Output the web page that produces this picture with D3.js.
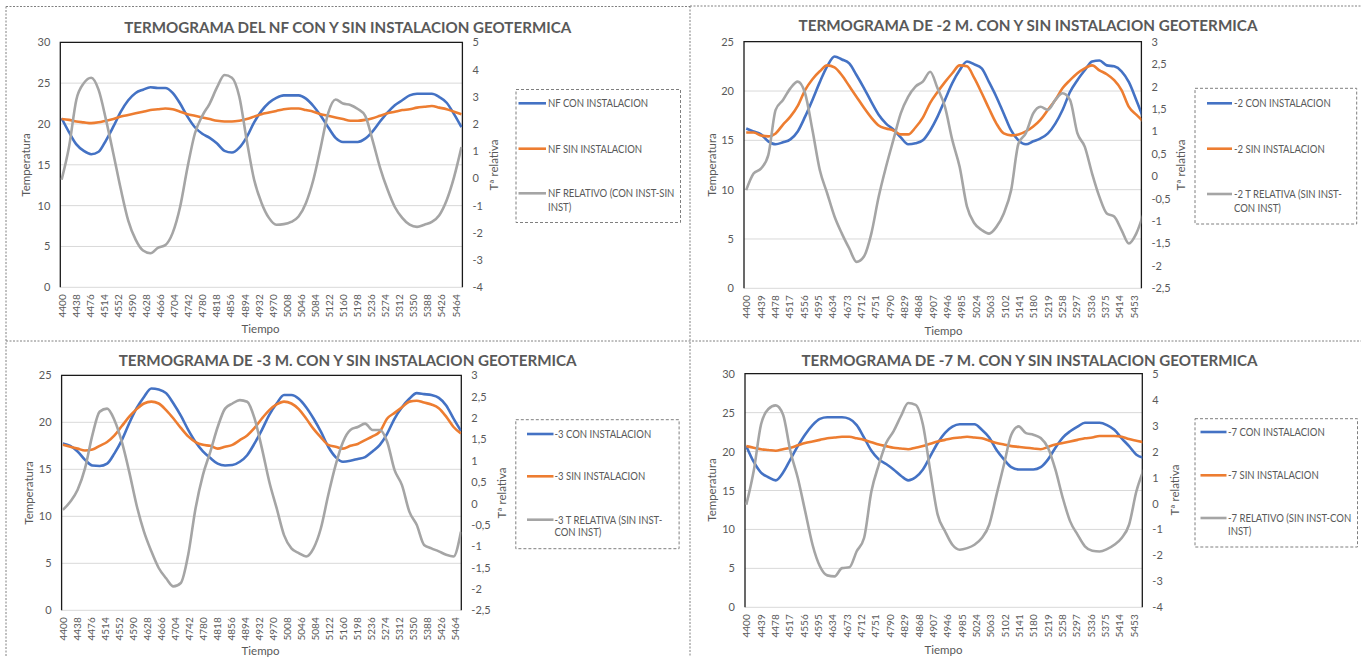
<!DOCTYPE html>
<html lang="es">
<head>
<meta charset="UTF-8">
<title>Termogramas con y sin instalacion geotermica</title>
<script src="https://d3js.org/d3.v7.min.js"></script>
<style>
  body { margin: 0; background: #fff; }
  text { font-family: Lato, "Liberation Sans", sans-serif; fill: #595959; }
</style>
</head>
<body>
<script>
    // tiempo (muestras leidas cada 20 unidades)
    const tiempo = [4400, 4420, 4440, 4460, 4480, 4500, 4520, 4540, 4560, 4580, 4600, 4620, 4640, 4660, 4680, 4700,
        4720, 4740, 4760, 4780, 4800, 4820, 4840, 4860, 4880, 4900, 4920, 4940, 4960, 4980, 5000, 5020, 5040, 5060,
        5080, 5100, 5120, 5140, 5160, 5180, 5200, 5220, 5240, 5260, 5280, 5300, 5320, 5340, 5360, 5380, 5400, 5420,
        5440, 5460, 5480];

    // etiquetas del eje x
    const ticks38 = [4400, 4438, 4476, 4514, 4552, 4590, 4628, 4666, 4704, 4742, 4780, 4818, 4856, 4894, 4932, 4970,
        5008, 5046, 5084, 5122, 5160, 5198, 5236, 5274, 5312, 5350, 5388, 5426, 5464];
    const ticks39 = [4400, 4439, 4478, 4517, 4556, 4595, 4634, 4673, 4712, 4751, 4790, 4829, 4868, 4907, 4946, 4985,
        5024, 5063, 5102, 5141, 5180, 5219, 5258, 5297, 5336, 5375, 5414, 5453];
    const temp30 = [0, 5, 10, 15, 20, 25, 30];
    const temp25 = [0, 5, 10, 15, 20, 25];
    const rel5 = [-4, -3, -2, -1, 0, 1, 2, 3, 4, 5];
    const rel3 = [-2.5, -2, -1.5, -1, -0.5, 0, 0.5, 1, 1.5, 2, 2.5, 3];

    // NF
    const nfCon = [20.7, 19.0, 17.5, 16.7, 16.3, 16.6, 18.0, 19.7, 21.5, 22.9, 23.8, 24.2, 24.5, 24.4, 24.4, 23.8,
        22.5, 20.9, 19.6, 18.8, 18.3, 17.6, 16.7, 16.5, 17.1, 18.4, 20.2, 21.6, 22.6, 23.2, 23.5, 23.5, 23.5, 23.1,
        22.2, 21.0, 19.6, 18.3, 17.8, 17.8, 17.8, 18.2, 19.1, 20.3, 21.4, 22.3, 22.9, 23.5, 23.7, 23.7, 23.7, 23.3,
        22.6, 21.2, 19.6];
    const nfSin = [20.6, 20.5, 20.3, 20.2, 20.1, 20.2, 20.4, 20.6, 20.9, 21.1, 21.3, 21.5, 21.7, 21.8, 21.9, 21.8,
        21.5, 21.2, 21.0, 20.8, 20.6, 20.4, 20.3, 20.3, 20.4, 20.6, 20.9, 21.2, 21.4, 21.6, 21.8, 21.9, 21.9, 21.7,
        21.5, 21.2, 21.0, 20.8, 20.6, 20.4, 20.4, 20.5, 20.7, 21.0, 21.3, 21.5, 21.7, 21.8, 22.0, 22.1, 22.2, 22.0,
        21.8, 21.5, 21.2];
    const nfRel = [-0.05, 1.15, 2.9, 3.5, 3.7, 3.25, 2.15, 0.9, -0.4, -1.55, -2.25, -2.65, -2.75, -2.55, -2.45, -2.0,
        -1.05, 0.4, 1.65, 2.3, 2.75, 3.35, 3.8, 3.7, 3.0, 1.4, -0.05, -0.9, -1.45, -1.7, -1.68, -1.6, -1.4, -0.9,
        -0.05, 1.15, 2.4, 2.9, 2.75, 2.7, 2.55, 2.3, 1.4, 0.4, -0.4, -1.05, -1.45, -1.7, -1.78, -1.7, -1.6, -1.35,
        -0.8, 0.05, 1.15];

    // -2 m
    const m2Con = [16.2, 15.9, 15.6, 14.9, 14.6, 14.8, 15.1, 15.9, 17.4, 19.1, 20.9, 22.5, 23.5, 23.2, 22.8, 21.6,
        20.3, 18.9, 17.6, 16.7, 16.1, 15.3, 14.6, 14.7, 15.0, 16.0, 17.4, 19.1, 20.8, 22.1, 23.0, 22.7, 22.3, 20.9,
        19.4, 17.7, 16.0, 15.0, 14.6, 14.9, 15.2, 15.7, 16.7, 18.1, 19.9, 21.1, 22.1, 23.0, 23.1, 22.6, 22.5, 22.0,
        20.9, 19.1, 17.2];
    const m2Sin = [15.8, 15.8, 15.5, 15.4, 15.7, 16.6, 17.4, 18.5, 20.1, 21.2, 22.0, 22.6, 22.4, 21.6, 20.5, 19.4,
        18.3, 17.3, 16.5, 16.2, 16.0, 15.6, 15.6, 16.3, 17.3, 18.8, 19.9, 20.9, 21.8, 22.6, 22.5, 21.3, 19.8, 18.2,
        16.7, 15.7, 15.5, 15.6, 15.9, 16.4, 17.1, 18.1, 19.1, 20.3, 21.1, 21.8, 22.3, 22.6, 22.1, 21.7, 21.1, 20.1,
        18.4, 17.6, 16.9];
    const m2Rel = [-0.31, 0.06, 0.17, 0.47, 1.48, 1.7, 1.96, 2.11, 1.85, 1.03, 0.14, -0.38, -0.9, -1.28, -1.61, -1.91,
        -1.79, -1.28, -0.46, 0.21, 0.81, 1.4, 1.77, 2.0, 2.11, 2.33, 1.96, 1.55, 0.81, 0.21, -0.68, -1.05, -1.2, -1.28,
        -1.13, -0.83, -0.31, 0.73, 0.96, 1.4, 1.55, 1.48, 1.7, 1.85, 1.7, 0.96, 0.66, 0.06, -0.46, -0.83, -0.9, -1.2,
        -1.5, -1.28, -0.83];

    // -3 m
    const m3Con = [17.75, 17.5, 16.9, 16.0, 15.4, 15.35, 15.6, 16.7, 18.1, 19.9, 21.5, 22.7, 23.6, 23.5, 23.1, 22.0,
        20.7, 19.2, 17.9, 16.9, 16.2, 15.6, 15.4, 15.45, 15.8, 16.5, 17.75, 19.2, 20.8, 22.0, 22.9, 22.9, 22.5, 21.6,
        20.4, 19.0, 17.4, 16.3, 15.8, 15.9, 16.1, 16.3, 16.9, 17.6, 18.8, 20.4, 21.6, 22.5, 23.1, 23.0, 22.9, 22.6,
        21.8, 20.4, 19.1];
    const m3Sin = [17.6, 17.4, 17.2, 17.0, 17.1, 17.5, 17.9, 18.6, 19.6, 20.6, 21.4, 22.0, 22.2, 22.0, 21.3, 20.4,
        19.4, 18.5, 17.9, 17.6, 17.5, 17.2, 17.4, 17.6, 18.1, 18.6, 19.4, 20.4, 21.3, 21.9, 22.2, 22.0, 21.4, 20.4,
        19.3, 18.4, 17.6, 17.4, 17.2, 17.5, 17.7, 18.1, 18.5, 19.0, 20.4, 21.0, 21.6, 22.2, 22.3, 22.1, 21.9, 21.5,
        20.6, 19.5, 18.8];
    const m3Rel = [-0.15, 0.04, 0.32, 0.82, 1.6, 2.15, 2.22, 1.95, 1.44, 0.74, -0.04, -0.66, -1.12, -1.51, -1.75, -1.94,
        -1.86, -1.2, -0.11, 0.67, 1.21, 1.79, 2.22, 2.34, 2.42, 2.38, 1.99, 1.29, 0.51, -0.11, -0.74, -1.05, -1.16,
        -1.24, -1.05, -0.58, 0.2, 0.9, 1.44, 1.72, 1.79, 1.87, 1.72, 1.72, 1.44, 0.78, 0.43, -0.19, -0.5, -0.97, -1.05,
        -1.12, -1.2, -1.24, -0.66];

    // -7 m
    const m7Con = [20.7, 18.7, 17.3, 16.7, 16.3, 17.3, 19.0, 20.7, 22.2, 23.4, 24.2, 24.4, 24.4, 24.4, 24.2, 23.4,
        21.8, 20.1, 19.0, 18.4, 17.7, 16.9, 16.3, 16.7, 17.7, 19.4, 21.1, 22.4, 23.2, 23.5, 23.5, 23.5, 22.8, 21.8,
        20.2, 19.0, 18.0, 17.7, 17.7, 17.7, 18.0, 19.0, 20.5, 21.8, 22.6, 23.2, 23.7, 23.7, 23.7, 23.4, 22.8, 21.7,
        20.7, 19.6, 19.2];
    const m7Sin = [20.7, 20.5, 20.3, 20.2, 20.1, 20.3, 20.5, 20.8, 21.1, 21.3, 21.5, 21.7, 21.8, 21.9, 21.9, 21.7,
        21.5, 21.2, 20.9, 20.7, 20.5, 20.4, 20.3, 20.5, 20.7, 21.0, 21.3, 21.5, 21.7, 21.8, 21.9, 21.8, 21.7, 21.4,
        21.1, 20.9, 20.7, 20.6, 20.5, 20.4, 20.3, 20.6, 20.9, 21.1, 21.3, 21.5, 21.7, 21.8, 22.0, 22.0, 22.0, 21.9,
        21.6, 21.4, 21.2];
    const m7Rel = [-0.05, 1.24, 3.04, 3.64, 3.78, 3.42, 2.0, 0.98, -0.3, -1.59, -2.42, -2.77, -2.81, -2.49, -2.46, -1.84,
        -1.33, 0.47, 1.49, 2.33, 2.78, 3.36, 3.87, 3.8, 3.03, 1.24, -0.43, -1.07, -1.59, -1.78, -1.72, -1.59, -1.33,
        -0.82, 0.34, 1.49, 2.65, 2.97, 2.71, 2.65, 2.52, 2.14, 1.3, 0.21, -0.69, -1.2, -1.65, -1.82, -1.85, -1.76,
        -1.59, -1.33, -0.82, 0.47, 1.3];

    const COLORS = ["#4472C4", "#ED7D31", "#A5A5A5"];
    const es = d3.formatLocale({decimal: ",", thousands: ".", grouping: [3], currency: ["", " €"], minus: "-"});
    const fmt = es.format("~g");

    const panels = [
        {
            title: "TERMOGRAMA DEL NF CON Y SIN INSTALACION GEOTERMICA", tx: 347.7, ty: 27.3, tw: 447,
            box: [60.3, 42.3, 462.4, 287.3], xDom: [4396.5, 5482.5], xTicks: ticks38,
            yMax: 30, yTicks: temp30, rDom: [-4, 5], rTicks: rel5,
            series: [nfCon, nfSin, nfRel],
            names: [["NF CON INSTALACION"], ["NF SIN INSTALACION"], ["NF RELATIVO (CON INST-SIN", "INST)"]],
            leg: {x: 516, y: 89.5, w: 164.5, h: 133, l0: 518.5, l1: 546, t: 548, ys: [103.3, 148.7, 193.3], lh: 14},
            yt: 26.4, rt: 493.8, at: 165, tiempo: [260.6, 329.3]
        },
        {
            title: "TERMOGRAMA DE -2 M. CON Y SIN INSTALACION GEOTERMICA", tx: 1028, ty: 26, tw: 459,
            box: [744, 41.7, 1141.4, 288.3], xDom: [4394, 5474], xTicks: ticks39,
            yMax: 25, yTicks: temp25, rDom: [-2.5, 3], rTicks: rel3,
            series: [m2Con, m2Sin, m2Rel],
            names: [["-2 CON INSTALACION"], ["-2 SIN INSTALACION"], ["-2 T RELATIVA (SIN INST-", "CON INST)"]],
            leg: {x: 1195, y: 88.3, w: 161.7, h: 135.7, l0: 1207, l1: 1232, t: 1234, ys: [103.3, 148.7, 194], lh: 13.5},
            yt: 711.8, rt: 1181, at: 165, tiempo: [943.4, 330.7]
        },
        {
            title: "TERMOGRAMA DE -3 M. CON Y SIN INSTALACION GEOTERMICA", tx: 347.7, ty: 360.7, tw: 458,
            box: [61.6, 375.3, 461.3, 610.3], xDom: [4396.5, 5481], xTicks: ticks38,
            yMax: 25, yTicks: temp25, rDom: [-2.5, 3], rTicks: rel3,
            series: [m3Con, m3Sin, m3Rel],
            names: [["-3 CON INSTALACION"], ["-3 SIN INSTALACION"], ["-3 T RELATIVA (SIN INST-", "CON INST)"]],
            leg: {x: 515.8, y: 419.7, w: 163.3, h: 129, l0: 527, l1: 553.5, t: 554.5, ys: [434, 476.3, 519.7], lh: 12.7},
            yt: 28.6, rt: 501.8, at: 493, tiempo: [260.6, 651]
        },
        {
            title: "TERMOGRAMA DE -7 M. CON Y SIN INSTALACION GEOTERMICA", tx: 1029.5, ty: 360.7, tw: 456,
            box: [745, 373.7, 1142.3, 607.3], xDom: [4396.5, 5476], xTicks: ticks39,
            yMax: 30, yTicks: temp30, rDom: [-4, 5], rTicks: rel5,
            series: [m7Con, m7Sin, m7Rel],
            names: [["-7 CON INSTALACION"], ["-7 SIN INSTALACION"], ["-7 RELATIVO (SIN INST-CON", "INST)"]],
            leg: {x: 1195, y: 418.7, w: 162.5, h: 128.3, l0: 1200.5, l1: 1226.5, t: 1228, ys: [432, 475.3, 518], lh: 12.7},
            yt: 711.8, rt: 1174.6, at: 490, tiempo: [943.4, 649.7]
        }
    ];

    const svg = d3.select("body").append("svg").attr("width", 1361).attr("height", 657);
    svg.append("rect").attr("width", 1361).attr("height", 657).attr("fill", "#fff");

    // marcos punteados de las capturas
    const frame = svg.append("g").attr("stroke", "#808080").attr("stroke-dasharray", "2,1.5").attr("fill", "none");
    [[6, 6.5, 690, 6.5], [690, 6, 1361, 6], [6, 6.5, 6, 657], [690, 6, 690, 657], [6, 341, 1361, 341]].forEach(l => {
        frame.append("line").attr("x1", l[0]).attr("y1", l[1]).attr("x2", l[2]).attr("y2", l[3]);
    });

    panels.forEach(draw);

    function draw(p, pi) {
        const [x0, y0, x1, y1] = p.box;
        const x = d3.scaleLinear().domain(p.xDom).range([x0, x1]);
        const yL = d3.scaleLinear().domain([0, p.yMax]).range([y1, y0]);
        const yR = d3.scaleLinear().domain(p.rDom).range([y1, y0]);
        const g = svg.append("g");

        g.append("text").attr("x", p.tx).attr("y", p.ty).attr("dy", "0.35em").attr("text-anchor", "middle")
            .attr("font-size", 15).attr("font-weight", "bold")
            .attr("textLength", p.tw).attr("lengthAdjust", "spacingAndGlyphs").text(p.title);

        g.selectAll(".grid").data(p.yTicks).join("line").attr("class", "grid")
            .attr("x1", x0).attr("x2", x1).attr("y1", d => yL(d)).attr("y2", d => yL(d))
            .attr("stroke", "#d9d9d9").attr("stroke-width", 1);
        g.append("path").attr("d", `M${x0},${y1}V${y0}H${x1}V${y1}`)
            .attr("fill", "none").attr("stroke", "#1a1a1a").attr("stroke-width", 1.3);

        const clipId = "clip" + pi;
        svg.append("clipPath").attr("id", clipId).append("rect")
            .attr("x", x0).attr("y", y0 - 6).attr("width", x1 - x0).attr("height", y1 - y0 + 12);
        const plot = g.append("g").attr("clip-path", `url(#${clipId})`);
        p.series.forEach((s, k) => {
            const yy = k === 2 ? yR : yL;
            const line = d3.line().x((d, i) => x(tiempo[i])).y(d => yy(d)).curve(d3.curveMonotoneX);
            plot.append("path").datum(s).attr("d", line).attr("fill", "none")
                .attr("stroke", COLORS[k]).attr("stroke-width", 2.6).attr("stroke-linejoin", "round");
        });

        const left = g.append("g").attr("transform", `translate(${x0},0)`)
            .call(d3.axisLeft(yL).tickValues(p.yTicks).tickSize(0).tickPadding(10).tickFormat(fmt));
        left.attr("font-size", 11).attr("font-family", null);
        left.select(".domain").remove();

        const right = g.append("g").attr("transform", `translate(${x1},0)`)
            .call(d3.axisRight(yR).tickValues(p.rTicks).tickSize(0).tickPadding(10).tickFormat(fmt));
        right.attr("font-size", 11).attr("font-family", null);
        right.select(".domain").remove();

        const bottom = g.append("g").attr("transform", `translate(0,${y1})`)
            .call(d3.axisBottom(x).tickValues(p.xTicks).tickSize(0).tickFormat(d => d));
        bottom.attr("font-size", 10).attr("font-family", null);
        bottom.select(".domain").remove();
        bottom.selectAll("text").attr("transform", "rotate(-90)").attr("x", -7).attr("y", 0)
            .attr("dy", "0.35em").attr("text-anchor", "end");

        g.append("text").attr("transform", `translate(${p.yt},${p.at}) rotate(-90)`)
            .attr("text-anchor", "middle").attr("dy", "0.35em").attr("font-size", 11.5).text("Temperatura");
        g.append("text").attr("transform", `translate(${p.rt},${p.at}) rotate(-90)`)
            .attr("text-anchor", "middle").attr("dy", "0.35em").attr("font-size", 11.5).text("Tª relativa");
        g.append("text").attr("x", p.tiempo[0]).attr("y", p.tiempo[1]).attr("dy", "0.35em")
            .attr("text-anchor", "middle").attr("font-size", 11.5).text("Tiempo");

        const lg = p.leg;
        g.append("rect").attr("x", lg.x).attr("y", lg.y).attr("width", lg.w).attr("height", lg.h)
            .attr("fill", "none").attr("stroke", "#7f7f7f").attr("stroke-dasharray", "3,2");
        p.names.forEach((nm, k) => {
            g.append("line").attr("x1", lg.l0).attr("x2", lg.l1).attr("y1", lg.ys[k]).attr("y2", lg.ys[k])
                .attr("stroke", COLORS[k]).attr("stroke-width", 2.6);
            nm.forEach((t, j) => {
                // letra estrecha como en la captura
                g.append("text")
                    .attr("transform", `translate(${lg.t},${lg.ys[k] + j * lg.lh}) scale(0.83,1)`)
                    .attr("dy", "0.35em").attr("font-size", 11.5).text(t);
            });
        });
    }
</script>
</body>
</html>
